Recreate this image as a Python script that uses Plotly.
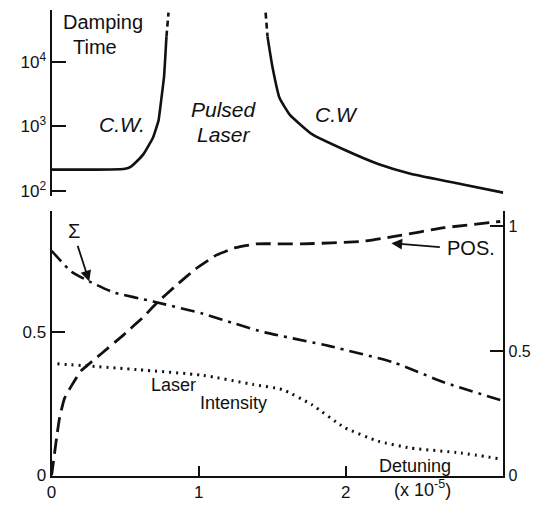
import plotly.graph_objects as go

# ---------------- data ----------------
# Top panel: damping time (log scale) vs detuning (x 1e-5)
cw_left_x = [0.0, 0.2, 0.4, 0.50, 0.54, 0.58, 0.626, 0.69, 0.727, 0.747, 0.765, 0.781]
cw_left_y = [215, 215, 216, 222, 240, 290, 377, 676, 1230, 2750, 6000, 24500]
cw_left_ext_x = [0.781, 0.795]
cw_left_ext_y = [24500, 57500]

cw_right_ext_x = [1.455, 1.468]
cw_right_ext_y = [57500, 24500]
cw_right_x = [1.468, 1.50, 1.55, 1.62, 1.77, 1.99, 2.22, 2.44, 2.78, 3.07]
cw_right_y = [24500, 8700, 2750, 1510, 760, 436, 263, 186, 129, 95]

# Bottom panel
detuning = [0.0, 0.007, 0.034, 0.054, 0.088, 0.135, 0.2, 0.34, 0.49, 0.63, 0.71,
            0.85, 0.98, 1.12, 1.25, 1.39, 1.70, 2.11, 2.33, 2.67, 3.05]
pos = [0.0, 0.03, 0.15, 0.23, 0.31, 0.36, 0.42, 0.49, 0.565, 0.64, 0.69,
       0.765, 0.83, 0.885, 0.915, 0.93, 0.93, 0.94, 0.96, 0.995, 1.02]

sigma_x = [0.0, 0.135, 0.256, 0.42, 0.69, 1.03, 1.25, 1.45, 1.89, 2.33, 2.67, 3.05]
sigma_y = [0.785, 0.712, 0.678, 0.64, 0.608, 0.565, 0.53, 0.50, 0.452, 0.394, 0.325, 0.264]

laser_x = [0.04, 0.58, 1.03, 1.37, 1.57, 1.77, 1.99, 2.22, 2.44, 2.78, 3.05]
laser_y = [0.39, 0.37, 0.35, 0.318, 0.30, 0.247, 0.168, 0.12, 0.096, 0.079, 0.058]

top_tickvals = [100, 1000, 10000]
top_ticktext = ["10<sup>2</sup>", "10<sup>3</sup>", "10<sup>4</sup>"]
x_tickvals = [0, 1, 2]
x_ticktext = ["0", "1", "2"]
left_tickvals = [0, 0.5]
left_ticktext = ["0", "0.5"]
right_tickvals = [0, 0.5, 1]
right_ticktext = ["0", "0.5", "1"]

# ---------------- figure ----------------
W, H = 535, 512
FONT = "Liberation Sans, Arial, sans-serif"
BLK = "#111111"


def px(x):
    return x / W


def py(y):
    return 1 - y / H


fig = go.Figure()
LW = 2.6

fig.add_trace(go.Scatter(x=cw_left_x, y=cw_left_y, mode="lines", xaxis="x", yaxis="y",
                         line=dict(color=BLK, width=LW, shape="spline", smoothing=0.3)))
fig.add_trace(go.Scatter(x=cw_left_ext_x, y=cw_left_ext_y, mode="lines", xaxis="x", yaxis="y",
                         line=dict(color=BLK, width=LW, dash="6px,4px")))
fig.add_trace(go.Scatter(x=cw_right_ext_x, y=cw_right_ext_y, mode="lines", xaxis="x", yaxis="y",
                         line=dict(color=BLK, width=LW, dash="6px,4px")))
fig.add_trace(go.Scatter(x=cw_right_x, y=cw_right_y, mode="lines", xaxis="x", yaxis="y",
                         line=dict(color=BLK, width=LW, shape="spline", smoothing=0.4)))

fig.add_trace(go.Scatter(x=detuning, y=pos, mode="lines", xaxis="x2", yaxis="y3",
                         line=dict(color=BLK, width=2.8, dash="15px,7px", shape="spline", smoothing=0.4)))
fig.add_trace(go.Scatter(x=sigma_x, y=sigma_y, mode="lines", xaxis="x2", yaxis="y2",
                         line=dict(color=BLK, width=LW, dash="14px,6px,3px,6px", shape="spline", smoothing=0.5)))
fig.add_trace(go.Scatter(x=laser_x, y=laser_y, mode="lines", xaxis="x2", yaxis="y2",
                         line=dict(color=BLK, width=3, dash="2px,5px", shape="spline", smoothing=0.5)))

xdom = [px(47), px(503)]
xrange = [0, 456 / 148.5]
tickfont = dict(family=FONT, size=17, color=BLK)

fig.update_layout(
    width=W, height=H, margin=dict(l=0, r=0, t=0, b=0), autosize=False,
    paper_bgcolor="white", plot_bgcolor="rgba(0,0,0,0)", showlegend=False,
    xaxis=dict(domain=xdom, range=xrange, visible=False, anchor="y"),
    yaxis=dict(domain=[py(200), py(10)], type="log", range=[1.924, 4.803], anchor="x",
               showline=True, linewidth=2, linecolor=BLK, showgrid=False, zeroline=False,
               ticks="inside", ticklen=14, tickwidth=1.5, tickcolor=BLK,
               tickvals=top_tickvals, ticktext=top_ticktext, tickfont=tickfont),
    xaxis2=dict(domain=xdom, range=xrange, anchor="y2",
                showline=True, linewidth=2, linecolor=BLK, showgrid=False, zeroline=False,
                ticks="inside", ticklen=10, tickwidth=1.5, tickcolor=BLK,
                tickvals=x_tickvals, ticktext=x_ticktext, tickfont=tickfont),
    yaxis2=dict(domain=[py(485), py(215)], range=[0, 270 / 292], anchor="x2",
                showline=True, linewidth=2, linecolor=BLK, showgrid=False, zeroline=False,
                ticks="inside", ticklen=13, tickwidth=1.5, tickcolor=BLK,
                tickvals=left_tickvals, ticktext=left_ticktext, tickfont=tickfont),
    yaxis3=dict(domain=[py(485), py(215)], range=[0, 270 / 254], anchor="x2",
                overlaying="y2", side="right",
                showline=True, linewidth=2, linecolor=BLK, showgrid=False, zeroline=False,
                ticks="inside", ticklen=13, tickwidth=1.5, tickcolor=BLK,
                tickvals=right_tickvals, ticktext=right_ticktext,
                tickfont=dict(family=FONT, size=16, color=BLK)),
)

ann_font = dict(family=FONT, size=20, color=BLK)
ital = dict(family=FONT, size=21, color=BLK)


def label(text, x, y, font=ann_font, **kw):
    fig.add_annotation(text=text, xref="paper", yref="paper", x=px(x), y=py(y),
                       showarrow=False, font=font, xanchor="center", yanchor="middle", **kw)


label("Damping", 99, 22)
label("Time", 91, 48)
label("<i>C.W.</i>", 118, 127, font=ital)
label("<i>Pulsed</i>", 221, 112, font=ital)
label("<i>Laser</i>", 221, 137, font=ital)
label("<i>C.W</i>", 335, 117, font=ital)
label("Σ", 70, 236, font=dict(family=FONT, size=20, color=BLK))
label("POS.", 470, 253, font=dict(family=FONT, size=20, color=BLK))
label("Laser", 170, 393, font=dict(family=FONT, size=18, color=BLK))
label("Intensity", 231, 411, font=dict(family=FONT, size=18, color=BLK))
label("Detuning", 414, 475, font=dict(family=FONT, size=18, color=BLK))
label("(x 10<sup>-5</sup>)", 421, 498, font=dict(family=FONT, size=18, color=BLK))

# arrows
fig.add_annotation(text="", xref="paper", yref="paper", x=px(85), y=py(287),
                   ax=-12, ay=-37, showarrow=True, arrowhead=2, arrowsize=1.2,
                   arrowwidth=1.8, arrowcolor=BLK)
fig.add_annotation(text="", xref="paper", yref="paper", x=px(390), y=py(248),
                   ax=50, ay=4, showarrow=True, arrowhead=2, arrowsize=1.2,
                   arrowwidth=1.8, arrowcolor=BLK)

fig.write_html("out.html", config={"displayModeBar": False},
               post_script="document.body.style.margin='0';")
